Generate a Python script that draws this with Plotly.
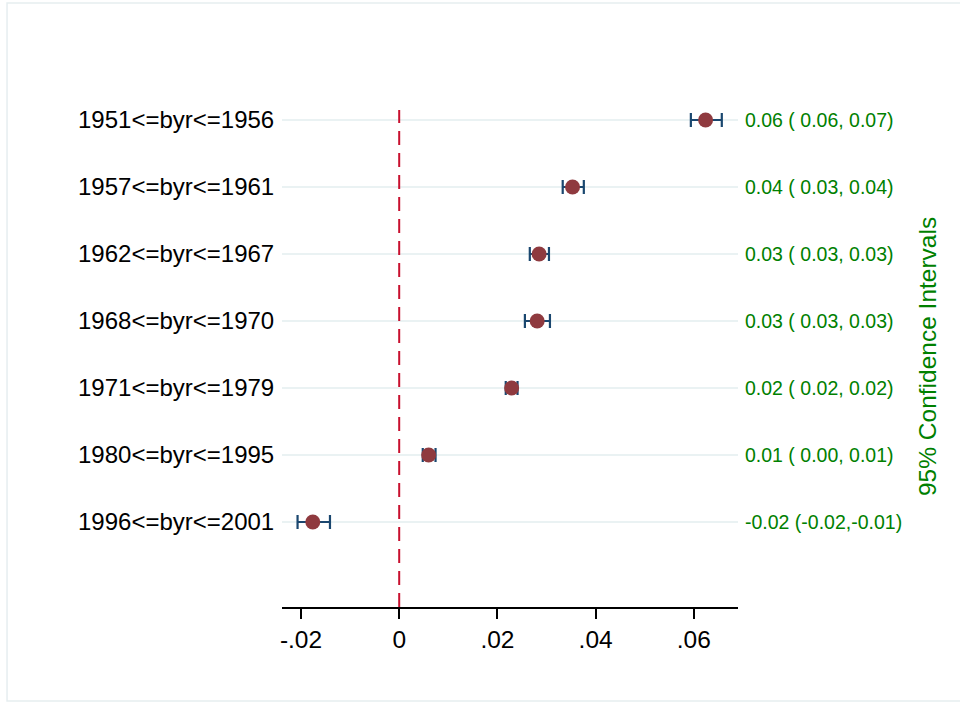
import plotly.graph_objects as go

categories = ["1951<=byr<=1956", "1957<=byr<=1961", "1962<=byr<=1967",
              "1968<=byr<=1970", "1971<=byr<=1979", "1980<=byr<=1995",
              "1996<=byr<=2001"]
estimates = [0.0624, 0.0353, 0.0285, 0.0281, 0.0229, 0.0060, -0.0176]
ci_low = [0.0594, 0.0333, 0.0266, 0.0256, 0.0217, 0.0048, -0.0207]
ci_high = [0.0657, 0.0376, 0.0305, 0.0307, 0.0241, 0.0074, -0.0141]
ci_labels = ["0.06 ( 0.06, 0.07)", "0.04 ( 0.03, 0.04)", "0.03 ( 0.03, 0.03)",
             "0.03 ( 0.03, 0.03)", "0.02 ( 0.02, 0.02)", "0.01 ( 0.00, 0.01)",
             "-0.02 (-0.02,-0.01)"]
x_tickvals = [-0.02, 0, 0.02, 0.04, 0.06]
x_ticktext = ["-.02", "0", ".02", ".04", ".06"]

n = len(categories)
ypos = [n - i for i in range(n)]

FONT = "Liberation Sans, Arial, sans-serif"

fig = go.Figure()
fig.add_trace(go.Scatter(
    x=estimates, y=ypos, mode="markers",
    marker=dict(size=15, color="#8f3a3f", line=dict(width=0)),
    error_x=dict(type="data", symmetric=False,
                 array=[h - e for h, e in zip(ci_high, estimates)],
                 arrayminus=[e - l for e, l in zip(estimates, ci_low)],
                 color="#1a476f", thickness=2.2, width=7),
    showlegend=False, hoverinfo="skip"))

annotations = []
for y, t in zip(ypos, ci_labels):
    annotations.append(dict(x=1.011, xref="paper", y=y, yref="y", text=t,
                            showarrow=False, xanchor="left", yanchor="middle",
                            font=dict(family=FONT, size=19.5, color="#008000")))
annotations.append(dict(x=1.4145, xref="paper", y=0.503, yref="paper",
                        text="95% Confidence Intervals", textangle=-90,
                        showarrow=False, xanchor="center", yanchor="middle",
                        font=dict(family=FONT, size=24.5, color="#008000")))

shapes = [
    dict(type="line", xref="x", yref="paper", x0=0, x1=0, y0=0, y1=1,
         line=dict(color="#c8102e", width=2, dash="14px,8px"), layer="above"),
    dict(type="rect", xref="paper", yref="paper", x0=-0.603, x1=1.55,
         y0=-0.189, y1=1.2153, line=dict(color="#e6eef0", width=1.5)),
]

fig.update_layout(
    width=960, height=702,
    margin=dict(l=282, r=222, t=110, b=95, pad=0),
    paper_bgcolor="white", plot_bgcolor="white",
    annotations=annotations, shapes=shapes,
    xaxis=dict(range=[-0.02387, 0.069], tickvals=x_tickvals, ticktext=x_ticktext,
               showgrid=False, zeroline=False, showline=True, linecolor="black",
               linewidth=1.5, ticks="outside", ticklen=10, tickwidth=1.5,
               tickcolor="black",
               tickfont=dict(family=FONT, size=24.5, color="black")),
    yaxis=dict(range=[-0.269, 7.149], tickvals=ypos, ticktext=categories,
               showgrid=True, gridcolor="#eaf2f3", gridwidth=2,
               zeroline=False, showline=False, ticks="outside", ticklen=2,
               tickcolor="rgba(0,0,0,0)",
               tickfont=dict(family=FONT, size=24, color="black")),
)

fig.write_html("out.html", config={"displayModeBar": False},
               post_script="document.body.style.margin='0';document.body.style.padding='0';")
